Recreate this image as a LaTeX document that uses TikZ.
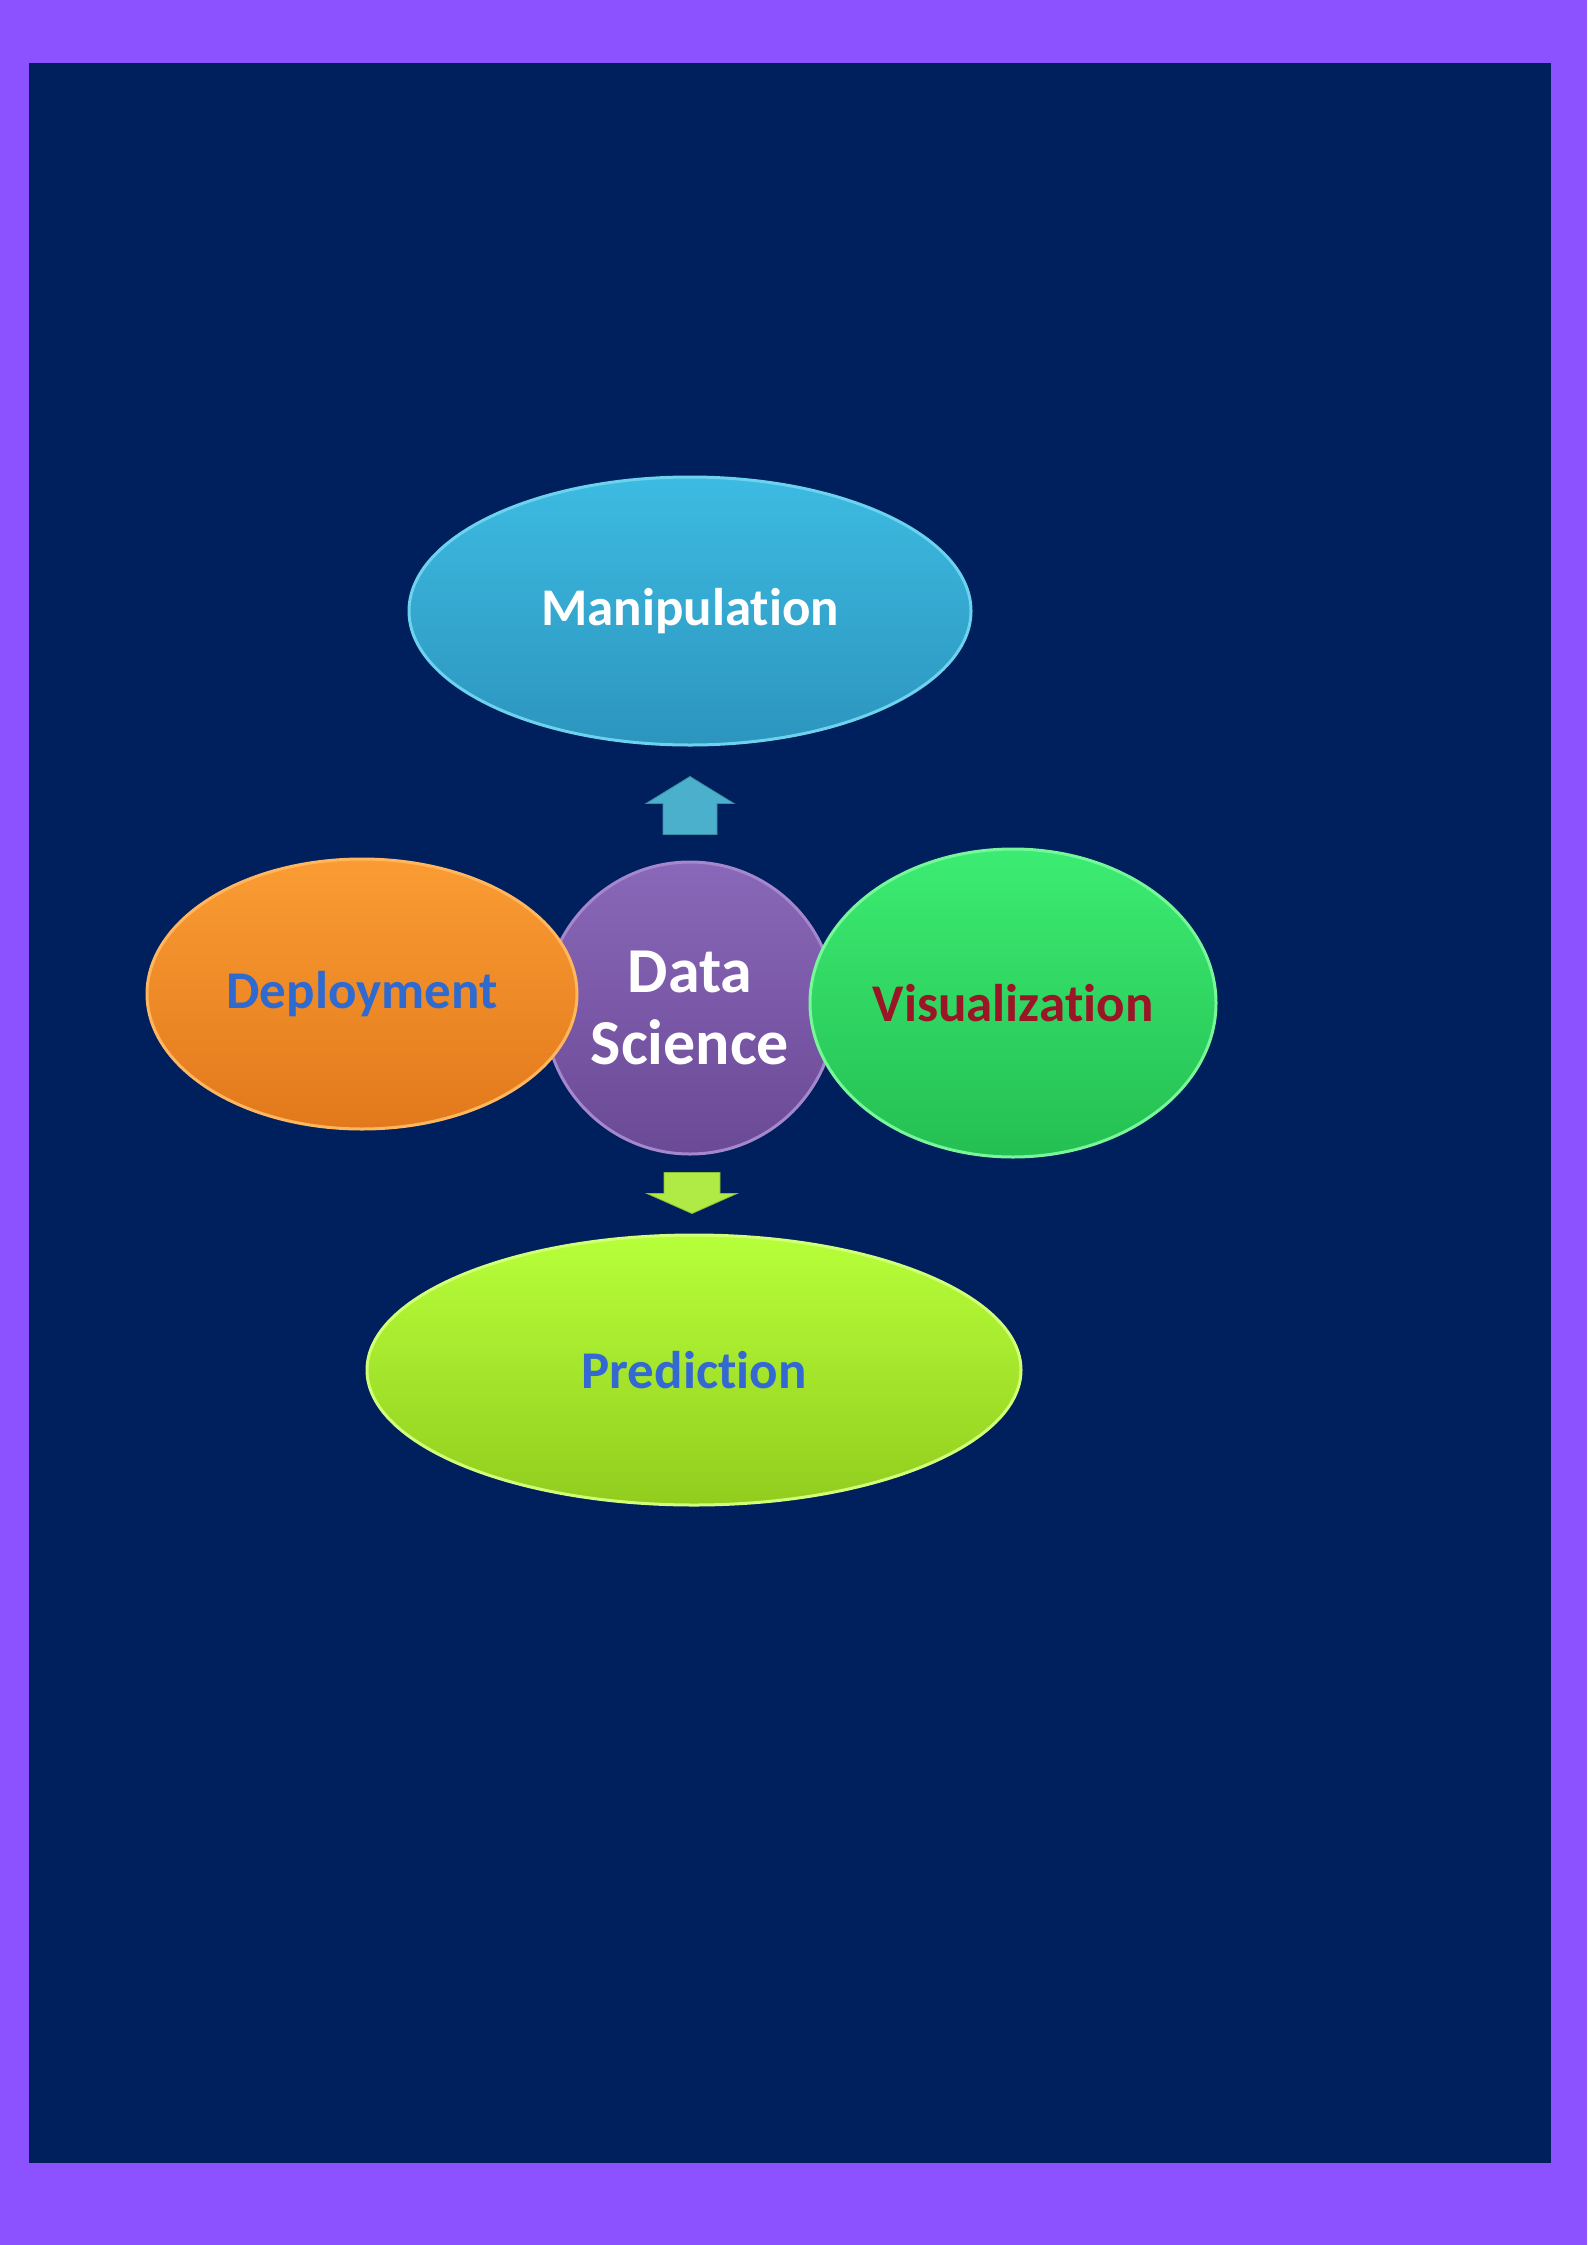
\documentclass[tikz,border=0pt]{standalone}
\usepackage{fontspec}
\setmainfont{Carlito}[RawFeature={-liga}]
\usetikzlibrary{shapes.geometric, positioning, calc}

\definecolor{framepurple}{HTML}{8C52FF}
\definecolor{navy}{HTML}{001F5D}
\definecolor{manitop}{HTML}{3DBBE2}
\definecolor{manibot}{HTML}{2C95BE}
\definecolor{manirim}{HTML}{6DD2EE}
\definecolor{deploytop}{HTML}{FA9C33}
\definecolor{deploybot}{HTML}{E2791C}
\definecolor{deployrim}{HTML}{FFB65E}
\definecolor{datatop}{HTML}{8A68B9}
\definecolor{databot}{HTML}{6A4996}
\definecolor{datarim}{HTML}{A487CC}
\definecolor{vistop}{HTML}{3CEC72}
\definecolor{visbot}{HTML}{24BF52}
\definecolor{visrim}{HTML}{78F79A}
\definecolor{predtop}{HTML}{B7FF3A}
\definecolor{predbot}{HTML}{92CD1E}
\definecolor{predrim}{HTML}{D2FF78}
\definecolor{uparrowcol}{HTML}{4BB0CC}
\definecolor{downarrowcol}{HTML}{B0EA45}
\definecolor{deploytext}{HTML}{2F6AD0}
\definecolor{vistext}{HTML}{9A1626}
\definecolor{predtext}{HTML}{3468D2}

\begin{document}
\begin{tikzpicture}[
                    x=1pt, y=-1pt,
                    topic/.style n args={3}{
                        ellipse,
                        top color=#1,
                        bottom color=#2,
                        draw=#3,
                        line width=3pt,
                        inner sep=0pt,
                        align=center,
                        font=\fontsize{53}{60}\selectfont\bfseries
                    },
                    block arrow/.style={fill=#1, draw=#1!80!black, line width=0.8pt}
                ]
                % page and frame
                \fill[framepurple] (0, 0) rectangle (1587, 2245);
                \fill[navy] (28.6, 63) rectangle (1551, 2163);

                % centre first, the side ellipses overlap it
                \node[topic={datatop}{databot}{datarim}, minimum width=291, minimum height=292,
                    text=white, font=\fontsize{64}{72}\selectfont\bfseries] (ds) at (690, 1008) {Data\\Science};

                \node[topic={manitop}{manibot}{manirim}, minimum width=562, minimum height=268,
                    text=white] (mani) at (690, 611) {Manipulation};
                \node[topic={deploytop}{deploybot}{deployrim}, minimum width=430, minimum height=270,
                    text=deploytext] (deploy) at (362, 994) {Deployment};
                \node[topic={vistop}{visbot}{visrim}, minimum width=406, minimum height=308,
                    text=vistext] (vis) at (1013, 1003) {Visualization};
                \node[topic={predtop}{predbot}{predrim}, minimum width=654, minimum height=270,
                    text=predtext] (pred) at (694, 1370) {Prediction};

                % block arrows
                \coordinate (up) at ($(mani.south)!0.5!(ds.north)$);
                \coordinate (down) at ($(ds.south)!0.5!(pred.north)$);
                \fill[block arrow=uparrowcol, shift={(up)}]
                    (0, -27) -- (44, 0) -- (27, 0) -- (27, 31) -- (-27, 31) -- (-27, 0) -- (-44, 0) -- cycle;
                \fill[block arrow=downarrowcol, shift={(down)}]
                    (-28, -22) -- (28, -22) -- (28, -1) -- (45, -1) -- (0, 19) -- (-45, -1) -- (-28, -1) -- cycle;
            \end{tikzpicture}
\end{document}
